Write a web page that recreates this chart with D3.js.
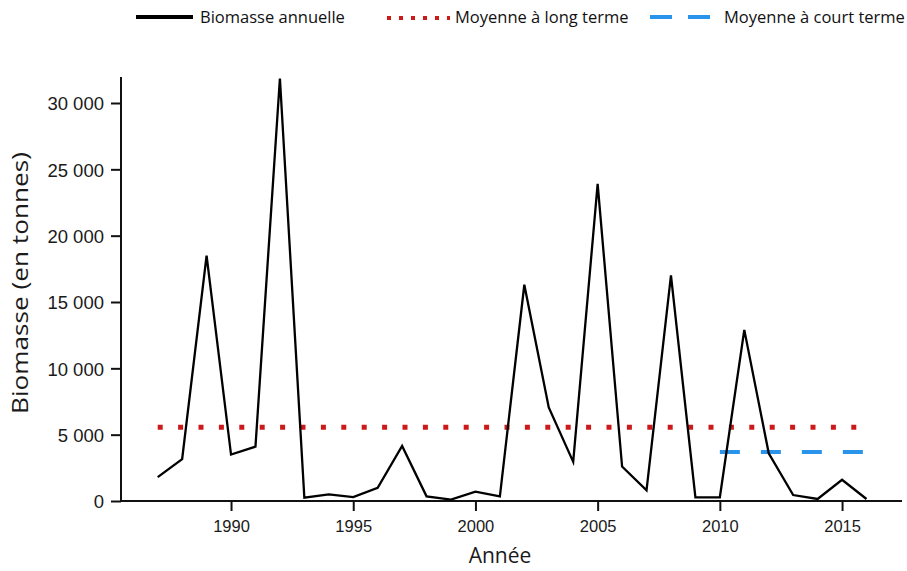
<!DOCTYPE html>
<html><head><meta charset="utf-8">
<script src="https://cdn.jsdelivr.net/npm/d3@7"></script>
<style>body{margin:0;background:#fff}</style>
</head><body>
<svg id="c" width="907" height="571"></svg>
<script>
const years = d3.range(1987, 2017);
const biomass = [1800, 3150, 18500, 3500, 4100, 32000, 250, 500, 300, 1000, 4150, 350, 100, 700, 350, 16300, 7050, 2950, 23900, 2600, 800, 17000, 280, 280, 12900, 3600, 450, 150, 1600, 150];
const longTermMean = 5550;
const shortTermMean = 3700;
const shortTermYears = [2010, 2016];
const longTermYears = [1987, 2016];
const yTicks = [0, 5000, 10000, 15000, 20000, 25000, 30000];
const xTicks = [1990, 1995, 2000, 2005, 2010, 2015];
const legendLabels = ["Biomasse annuelle", "Moyenne à long terme", "Moyenne à court terme"];

const svg = d3.select("#c");
const x = d3.scaleLinear().domain([1987, 2016]).range([157.7, 866.5]);
const y = d3.scaleLinear().domain([0, 30000]).range([501, 103]);
const fmt = v => d3.format(",")(v).replace(/,/g, " ");

// axes
const xAxis = svg.append("g").attr("transform", "translate(0,501)")
  .call(d3.axisBottom(x).tickValues(xTicks).tickFormat(d3.format("d")).tickSize(10).tickSizeOuter(0));
xAxis.select(".domain").attr("d", "M121,0H902");
const yAxis = svg.append("g").attr("transform", "translate(121,0)")
  .call(d3.axisLeft(y).tickValues(yTicks).tickFormat(fmt).tickSize(10).tickSizeOuter(0));
yAxis.select(".domain").attr("d", "M0,77V501");
[xAxis, yAxis].forEach(a => {
  a.selectAll("path,line").attr("stroke", "#111").attr("stroke-width", 2);
  a.selectAll("text").attr("fill", "#1a1a1a").attr("font-family", "Liberation Sans, Arial, sans-serif");
});
xAxis.selectAll("text").attr("font-size", 16.5).attr("dy", "1.12em");
yAxis.selectAll("text").attr("font-size", 18.5).attr("dy", "0.36em").attr("x", -17);

// mean lines
svg.append("line")
  .attr("x1", x(longTermYears[0])).attr("x2", x(longTermYears[1]))
  .attr("y1", y(longTermMean)).attr("y2", y(longTermMean))
  .attr("stroke", "#cc1a1a").attr("stroke-width", 5).attr("stroke-dasharray", "5,15.4");
svg.append("line")
  .attr("x1", x(shortTermYears[0])).attr("x2", x(shortTermYears[1]))
  .attr("y1", y(shortTermMean)).attr("y2", y(shortTermMean))
  .attr("stroke", "#2a93ea").attr("stroke-width", 4).attr("stroke-dasharray", "20,21");

// series line
svg.append("path")
  .datum(years.map((yr, i) => [yr, biomass[i]]))
  .attr("fill", "none").attr("stroke", "#000").attr("stroke-width", 2.3)
  .attr("stroke-linejoin", "miter")
  .attr("d", d3.line().x(d => x(d[0])).y(d => y(Math.min(d[1], 31850))));

// axis titles
svg.append("text").attr("x", 500).attr("y", 563).attr("text-anchor", "middle")
  .attr("font-family", "Open Sans, sans-serif").attr("font-size", 21).attr("fill", "#1a1a1a").text("Année");
svg.append("text").attr("transform", "translate(28,283) rotate(-90)").attr("text-anchor", "middle")
  .attr("font-family", "Open Sans, sans-serif").attr("font-size", 21).attr("fill", "#1a1a1a")
  .attr("textLength", 262).attr("lengthAdjust", "spacingAndGlyphs").text("Biomasse (en tonnes)");

// legend
const lg = svg.append("g").attr("font-family", "Open Sans, sans-serif").attr("font-size", 16.5).attr("fill", "#111");
lg.append("line").attr("x1", 136).attr("x2", 193).attr("y1", 17).attr("y2", 17).attr("stroke", "#000").attr("stroke-width", 4);
lg.append("text").attr("x", 200).attr("y", 23).text(legendLabels[0]);
lg.append("line").attr("x1", 387).attr("x2", 450).attr("y1", 18).attr("y2", 18).attr("stroke", "#cc1a1a").attr("stroke-width", 4).attr("stroke-dasharray", "4,8");
lg.append("text").attr("x", 455).attr("y", 23).text(legendLabels[1]);
lg.append("line").attr("x1", 650).attr("x2", 716).attr("y1", 17).attr("y2", 17).attr("stroke", "#2a93ea").attr("stroke-width", 4).attr("stroke-dasharray", "22,16");
lg.append("text").attr("x", 724).attr("y", 23).text(legendLabels[2]);
</script>
</body></html>
